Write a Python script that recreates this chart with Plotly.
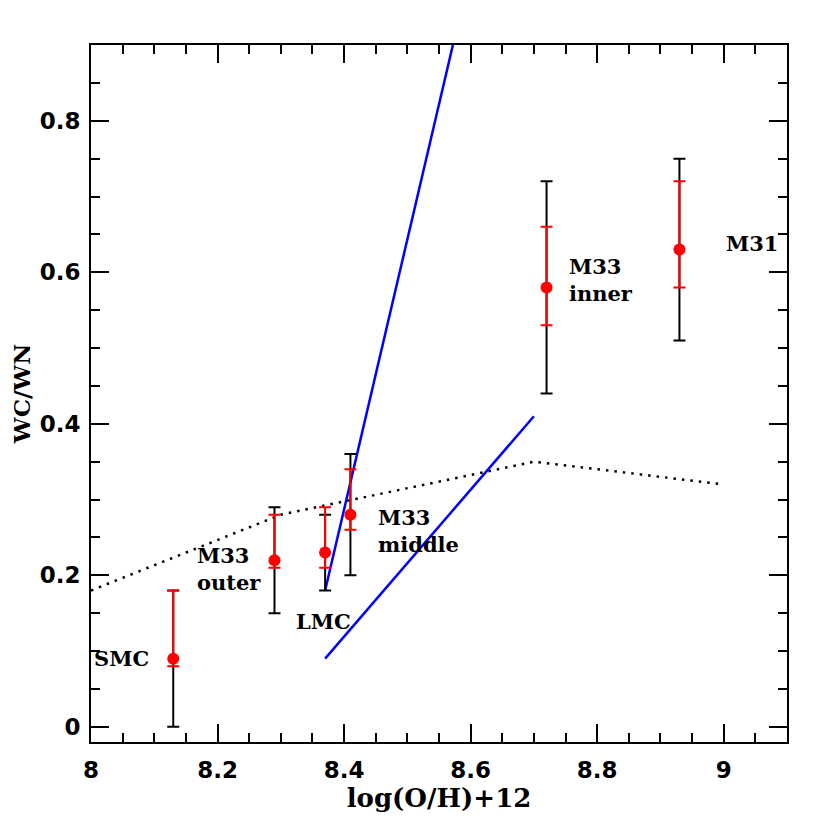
import plotly.graph_objects as go

# Data points
names = ["SMC", "M33 outer", "LMC", "M33 middle", "M33 inner", "M31"]
x_oh = [8.13, 8.29, 8.37, 8.41, 8.72, 8.93]
y_ratio = [0.09, 0.22, 0.23, 0.28, 0.58, 0.63]
red_hi = [0.18, 0.28, 0.29, 0.34, 0.66, 0.72]
red_lo = [0.08, 0.21, 0.21, 0.26, 0.53, 0.58]
blk_hi = [0.18, 0.29, 0.28, 0.36, 0.72, 0.75]
blk_lo = [0.00, 0.15, 0.18, 0.20, 0.44, 0.51]

# Model lines
blue1_x = [8.37, 8.60]
blue1_y = [0.18, 1.00]
blue2_x = [8.37, 8.70]
blue2_y = [0.09, 0.41]
dot_x = [8.0, 8.3, 8.7, 9.0]
dot_y = [0.18, 0.28, 0.35, 0.32]

# Labels
lab_text = ["SMC", "M33<br>outer", "LMC", "M33<br>middle", "M33<br>inner", "M31"]
lab_x = [8.095, 8.272, 8.368, 8.45, 8.753, 9.0]
lab_y = [0.09, 0.209, 0.139, 0.259, 0.59, 0.638]
lab_anchor = ["right", "right", "center", "left", "left", "left"]

FONT = "DejaVu Serif"
TICKFONT = "DejaVu Sans"

fig = go.Figure()

fig.add_trace(go.Scatter(x=dot_x, y=dot_y, mode="lines",
                         line=dict(color="black", width=2.5, dash="2.5px,6px"),
                         showlegend=False, hoverinfo="skip"))
fig.add_trace(go.Scatter(x=blue1_x, y=blue1_y, mode="lines",
                         line=dict(color="#0000ff", width=2.5),
                         showlegend=False, hoverinfo="skip"))
fig.add_trace(go.Scatter(x=blue2_x, y=blue2_y, mode="lines",
                         line=dict(color="#0000ff", width=2.5),
                         showlegend=False, hoverinfo="skip"))

# black (outer) error bars
fig.add_trace(go.Scatter(
    x=x_oh, y=y_ratio, mode="markers",
    marker=dict(size=1, color="rgba(0,0,0,0)"),
    error_y=dict(type="data", symmetric=False,
                 array=[h - y for h, y in zip(blk_hi, y_ratio)],
                 arrayminus=[y - l for l, y in zip(blk_lo, y_ratio)],
                 color="black", thickness=2, width=6),
    showlegend=False, hoverinfo="skip"))

# red error bars + points
fig.add_trace(go.Scatter(
    x=x_oh, y=y_ratio, mode="markers",
    marker=dict(size=12, color="#ff0000"),
    error_y=dict(type="data", symmetric=False,
                 array=[h - y for h, y in zip(red_hi, y_ratio)],
                 arrayminus=[y - l for l, y in zip(red_lo, y_ratio)],
                 color="#ff0000", thickness=2, width=6),
    text=names, showlegend=False))

for t, xx, yy, a in zip(lab_text, lab_x, lab_y, lab_anchor):
    fig.add_annotation(x=xx, y=yy, xref="x", yref="y", text="<b>" + t + "</b>", showarrow=False,
                       xanchor=a, yanchor="middle", align="left",
                       font=dict(family=FONT, size=21, color="black"))

axis_common = dict(showgrid=False, zeroline=False, showline=True, linecolor="black",
                   linewidth=2, mirror="ticks", ticks="inside", ticklen=18, tickwidth=2,
                   tickcolor="black", automargin=False,
                   tickfont=dict(family=TICKFONT, size=23, color="black", weight="bold"),
                   minor=dict(ticks="inside", ticklen=9, tickwidth=2, tickcolor="black", dtick=0.05))

fig.update_xaxes(range=[8.0, 9.1], dtick=0.2, tick0=8.0, ticklabelstandoff=6,
                 title=dict(text="<b>log(O/H)+12</b>", font=dict(family=FONT, size=26, color="black"), standoff=4),
                 **axis_common)
fig.update_yaxes(range=[-0.02, 0.9], dtick=0.2, tick0=0, ticklabelstandoff=4,
                 title=dict(text="<b>WC/WN</b>", font=dict(family=FONT, size=23, color="black"), standoff=4),
                 **axis_common)

fig.update_layout(width=830, height=830, plot_bgcolor="white", paper_bgcolor="white",
                  margin=dict(l=83, r=51, t=37, b=96))

fig.write_html("out.html")
